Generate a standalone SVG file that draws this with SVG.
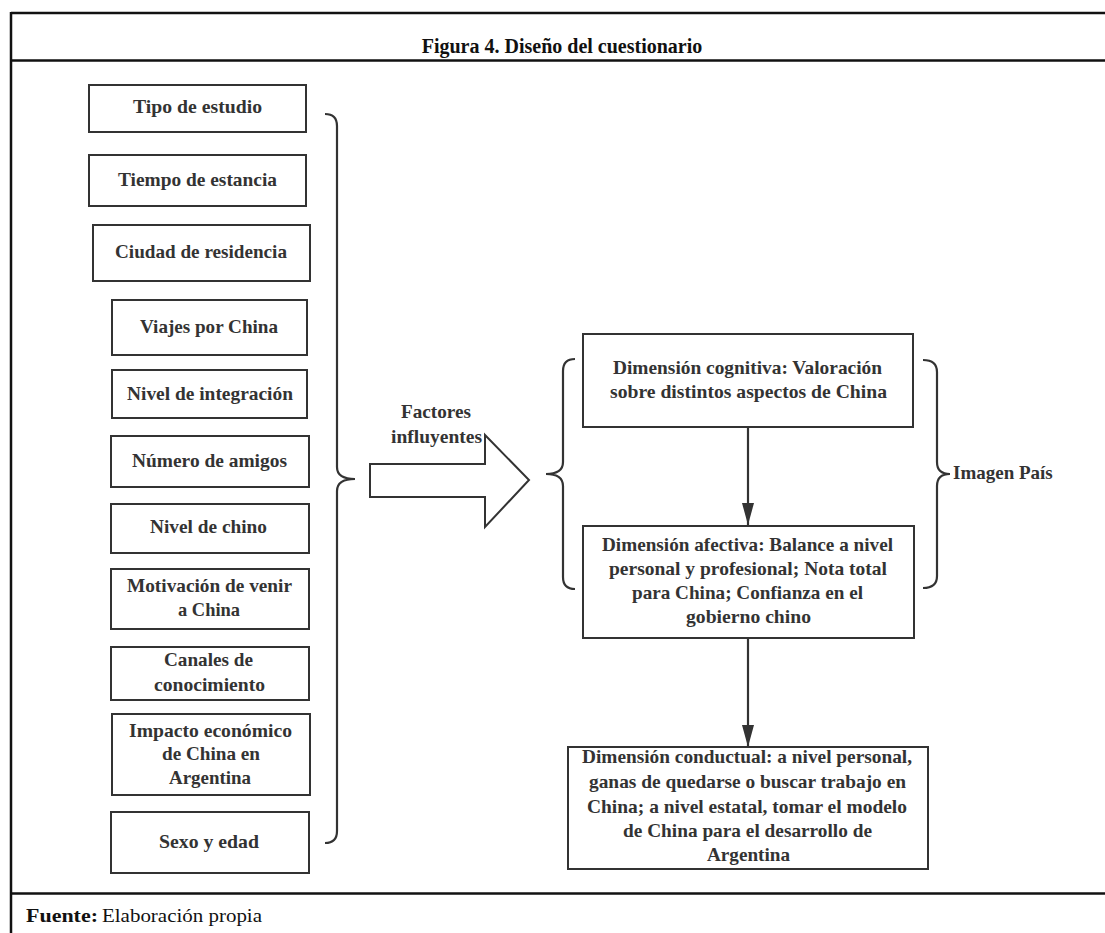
<svg xmlns="http://www.w3.org/2000/svg" width="1105" height="933" viewBox="0 0 1105 933">
<style>
.frame{stroke:#111;stroke-width:2.5;fill:none}
.box{fill:#fff;stroke:#333;stroke-width:2}
.t{font-family:"Liberation Serif","Times New Roman",serif;font-weight:bold;font-size:19px;fill:#333}
.title{font-family:"Liberation Serif","Times New Roman",serif;font-weight:bold;font-size:20px;fill:#111}
.foot{font-family:"Liberation Serif","Times New Roman",serif;font-size:18px;fill:#111}
.brace{fill:none;stroke:#333;stroke-width:2.2}
.conn{stroke:#333;stroke-width:2.2;fill:none}
</style>
<defs>
<marker id="ah" markerUnits="userSpaceOnUse" markerWidth="22" markerHeight="12" refX="22" refY="6" orient="auto">
<path d="M0,0 L22,6 L0,12 z" fill="#333"/>
</marker>
</defs>
<rect width="1105" height="933" fill="#fff"/>
<g id="frame">
<line class="frame" x1="11" y1="13" x2="1105" y2="13"/>
<line class="frame" x1="11" y1="60.5" x2="1105" y2="60.5"/>
<line class="frame" x1="11" y1="893.5" x2="1105" y2="893.5"/>
<line class="frame" x1="11" y1="12" x2="11" y2="933"/>
<text class="title" x="562" y="53" text-anchor="middle">Figura 4. Diseño del cuestionario</text>
<text class="foot" y="922"><tspan x="26" font-weight="bold" textLength="72" lengthAdjust="spacingAndGlyphs">Fuente:</tspan><tspan x="102" textLength="160" lengthAdjust="spacingAndGlyphs">Elaboración propia</tspan></text>
</g>
<g id="n1"><rect class="box" x="89" y="85" width="217" height="47"/><text class="t" x="133" y="113" textLength="129" lengthAdjust="spacingAndGlyphs">Tipo de estudio</text></g>
<g id="n2"><rect class="box" x="89" y="155" width="217" height="51"/><text class="t" x="118" y="186" textLength="159" lengthAdjust="spacingAndGlyphs">Tiempo de estancia</text></g>
<g id="n3"><rect class="box" x="93" y="225" width="217" height="56"/><text class="t" x="115" y="258" textLength="172" lengthAdjust="spacingAndGlyphs">Ciudad de residencia</text></g>
<g id="n4"><rect class="box" x="112" y="300" width="195" height="55"/><text class="t" x="140" y="333" textLength="138" lengthAdjust="spacingAndGlyphs">Viajes por China</text></g>
<g id="n5"><rect class="box" x="112" y="370" width="195" height="48"/><text class="t" x="127" y="400" textLength="166" lengthAdjust="spacingAndGlyphs">Nivel de integración</text></g>
<g id="n6"><rect class="box" x="111" y="436" width="198" height="51"/><text class="t" x="132" y="467" textLength="155" lengthAdjust="spacingAndGlyphs">Número de amigos</text></g>
<g id="n7"><rect class="box" x="111" y="504" width="198" height="49"/><text class="t" x="150" y="533" textLength="117" lengthAdjust="spacingAndGlyphs">Nivel de chino</text></g>
<g id="n8"><rect class="box" x="111" y="569" width="198" height="60"/><text class="t" x="127" y="592" textLength="165" lengthAdjust="spacingAndGlyphs">Motivación de venir</text><text class="t" x="178" y="616" textLength="62" lengthAdjust="spacingAndGlyphs">a China</text></g>
<g id="n9"><rect class="box" x="111" y="647" width="198" height="53"/><text class="t" x="164" y="666" textLength="89" lengthAdjust="spacingAndGlyphs">Canales de</text><text class="t" x="154" y="691" textLength="111" lengthAdjust="spacingAndGlyphs">conocimiento</text></g>
<g id="n10"><rect class="box" x="112" y="714" width="198" height="81"/><text class="t" x="129" y="737" textLength="163" lengthAdjust="spacingAndGlyphs">Impacto económico</text><text class="t" x="162" y="760" textLength="98" lengthAdjust="spacingAndGlyphs">de China en</text><text class="t" x="169" y="784" textLength="82" lengthAdjust="spacingAndGlyphs">Argentina</text></g>
<g id="n11"><rect class="box" x="111" y="812" width="198" height="61"/><text class="t" x="159" y="848" textLength="100" lengthAdjust="spacingAndGlyphs">Sexo y edad</text></g>
<g id="factores">
<polygon class="box" points="370,464 485,464 485,435 529,480 485,527 485,497 370,497"/>
<text class="t" x="401" y="418" textLength="70" lengthAdjust="spacingAndGlyphs">Factores</text>
<text class="t" x="391" y="443" textLength="91" lengthAdjust="spacingAndGlyphs">influyentes</text>
</g>
<g id="cognitiva"><rect class="box" x="583" y="334" width="330" height="93"/><text class="t" x="613" y="374" textLength="269" lengthAdjust="spacingAndGlyphs">Dimensión cognitiva: Valoración</text><text class="t" x="610" y="398" textLength="277" lengthAdjust="spacingAndGlyphs">sobre distintos aspectos de China</text></g>
<g id="afectiva"><rect class="box" x="583" y="526" width="331" height="112"/><text class="t" x="602" y="551" textLength="291" lengthAdjust="spacingAndGlyphs">Dimensión afectiva: Balance a nivel</text><text class="t" x="609" y="575" textLength="278" lengthAdjust="spacingAndGlyphs">personal y profesional; Nota total</text><text class="t" x="632" y="599" textLength="231" lengthAdjust="spacingAndGlyphs">para China; Confianza en el</text><text class="t" x="686" y="623" textLength="125" lengthAdjust="spacingAndGlyphs">gobierno chino</text></g>
<g id="conductual"><rect class="box" x="568" y="747" width="360" height="122"/><text class="t" x="582" y="763" textLength="330" lengthAdjust="spacingAndGlyphs">Dimensión conductual: a nivel personal,</text><text class="t" x="589" y="788" textLength="317" lengthAdjust="spacingAndGlyphs">ganas de quedarse o buscar trabajo en</text><text class="t" x="587" y="813" textLength="320" lengthAdjust="spacingAndGlyphs">China; a nivel estatal, tomar el modelo</text><text class="t" x="623" y="837" textLength="249" lengthAdjust="spacingAndGlyphs">de China para el desarrollo de</text><text class="t" x="707" y="861" textLength="83" lengthAdjust="spacingAndGlyphs">Argentina</text></g>
<g id="imagen"><text class="t" x="953" y="479" font-size="16">Imagen País</text></g>
<g id="connectors">
<path class="brace" d="M325,114 Q337,114 337,126 L337,467 Q337,479 355,479 Q337,479 337,491 L337,831 Q337,843 325,843"/>
<path class="brace" d="M575,359 Q563,359 563,371 L563,462 Q563,474 546,474 Q563,474 563,486 L563,577 Q563,589 575,589"/>
<path class="brace" d="M923,360 Q937,360 937,372 L937,462 Q937,474 950,474 Q937,474 937,486 L937,576 Q937,588 923,588"/>
<line class="conn" x1="748" y1="427" x2="748" y2="525" marker-end="url(#ah)"/>
<line class="conn" x1="748" y1="638" x2="748" y2="747" marker-end="url(#ah)"/>
</g>
</svg>
